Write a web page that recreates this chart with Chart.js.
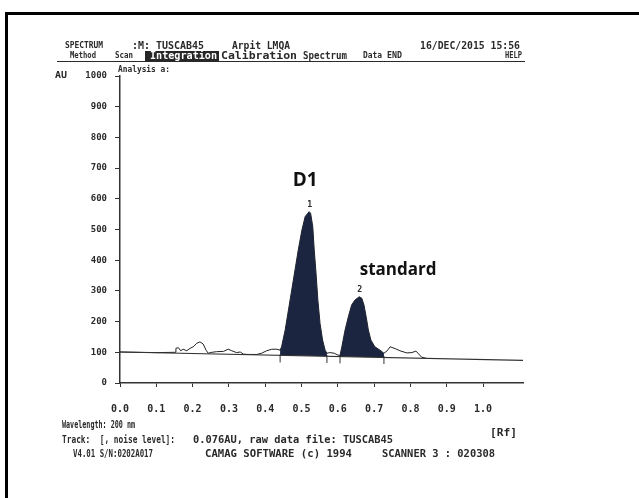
<!DOCTYPE html>
<html>
<head>
<meta charset="utf-8">
<script src="https://cdn.jsdelivr.net/npm/chart.js@4"></script>
<style>
  html, body { margin: 0; padding: 0; background: #fff; }
  #wrap { position: relative; width: 639px; height: 498px; overflow: hidden; }
  #frame { position: absolute; left: 5px; top: 12px; width: 700px; height: 600px;
           border-left: 3px solid #000; border-top: 3px solid #000; }
  canvas { position: absolute; left: 0; top: 0; }
</style>
</head>
<body>
<div id="wrap">
  <canvas id="chart" width="639" height="498"></canvas>
  <div id="frame"></div>
</div>
<script>
// densitogram trace: Rf vs AU
const rf = [0.00, 0.10, 0.152, 0.154, 0.161, 0.167, 0.174, 0.184, 0.193, 0.202, 0.211, 0.220, 0.229, 0.237,
  0.243, 0.253, 0.266, 0.285, 0.298, 0.308, 0.321, 0.331, 0.340, 0.353, 0.377, 0.390, 0.404, 0.418, 0.432,
  0.441, 0.445, 0.455, 0.464, 0.473, 0.482, 0.491, 0.501, 0.510, 0.521, 0.525, 0.531, 0.535, 0.540, 0.545,
  0.551, 0.558, 0.565, 0.570, 0.578, 0.590, 0.600, 0.606, 0.611, 0.620, 0.629, 0.638, 0.647, 0.659, 0.666,
  0.672, 0.678, 0.684, 0.691, 0.702, 0.716, 0.727, 0.736, 0.744, 0.758, 0.771, 0.790, 0.804, 0.815, 0.831, 0.845];
const au = [101, 99, 100, 113, 115, 105, 110, 105, 113, 118, 129, 134, 127, 107,
  97, 100, 102, 103, 110, 105, 99, 101, 94, 93, 93, 97, 105, 110, 110,
  107, 118, 173, 238, 303, 368, 433, 498, 542, 558, 553, 509, 433, 357, 270,
  194, 140, 107, 97, 99, 97, 91, 90, 118, 173, 216, 254, 270, 281, 276,
  254, 216, 173, 140, 118, 107, 97, 105, 118, 112, 105, 98, 99, 104, 84, 80];

// integration baseline
const baseRf = [0.0, 1.11];
const baseAu = [101, 74];

// integrated peaks: start / end Rf
const peakStart = [0.441, 0.606];
const peakEnd = [0.570, 0.727];
const peakNames = ['1', '2'];
const peakTopRf = [0.521, 0.659];
const peakTopAu = [558, 281];

// boundary markers under the baseline
const markRf = [0.441, 0.570, 0.606, 0.727];
const markAu = [80, 78, 77, 75];

const xTicks = [0.0, 0.1, 0.2, 0.3, 0.4, 0.5, 0.6, 0.7, 0.8, 0.9, 1.0];
const yTicks = [0, 100, 200, 300, 400, 500, 600, 700, 800, 900, 1000];

const pts = (xs, ys) => xs.map((x, i) => ({ x: x, y: ys[i] }));
const curve = pts(rf, au);
const peakPts = k => curve.filter(p => p.x >= peakStart[k] - 1e-9 && p.x <= peakEnd[k] + 1e-9);

const MONO = "'DejaVu Sans Mono'";
const INK = '#2a2a2a';

const textPlugin = {
  id: 'texts',
  afterDraw(chart) {
    const ctx = chart.ctx;
    const xs = chart.scales.x, ys = chart.scales.y;
    ctx.save();
    ctx.textBaseline = 'middle';
    ctx.textAlign = 'left';
    ctx.fillStyle = INK;
    // draw text squeezed or stretched to the width seen on the scan
    const t = (s, x, y, size, w) => {
      ctx.font = 'bold ' + size + 'px ' + MONO;
      const m = ctx.measureText(s).width;
      ctx.save();
      ctx.translate(x, y);
      ctx.scale(w / m, 1);
      ctx.fillText(s, 0, 0);
      ctx.restore();
    };
    // header
    t('SPECTRUM', 65, 46, 9, 38);
    t(':M: TUSCAB45', 132, 46, 10, 72);
    t('Arpit LMQA', 232, 46, 10, 58);
    t('16/DEC/2015 15:56', 420, 46, 10, 100);
    t('Method', 70, 56, 9, 26);
    t('Scan', 115, 56, 9, 18);
    ctx.fillStyle = '#262626';
    ctx.fillRect(145, 51, 74, 10);
    ctx.fillStyle = '#fff';
    t('Integration', 150, 56, 10, 67);
    ctx.fillStyle = INK;
    t('Calibration', 221, 56, 10, 76);
    t('Spectrum', 303, 56, 10, 44);
    t('Data', 363, 56, 9, 19);
    t('END', 387, 56, 9, 15);
    t('HELP', 505, 56, 9, 17);
    ctx.strokeStyle = INK;
    ctx.lineWidth = 1;
    ctx.beginPath();
    ctx.moveTo(57, 61.5);
    ctx.lineTo(525, 61.5);
    ctx.stroke();
    t('Analysis a:', 118, 70, 9, 52);
    t('AU', 55, 76, 9, 12);
    // footer
    t('Wavelength: 200 nm', 62, 425, 10, 73);
    t('[Rf]', 490, 433, 10, 27);
    t('Track:  [, noise level]:', 62, 440, 10, 113);
    t('0.076AU, raw data file: TUSCAB45', 193, 440, 10, 200);
    t('V4.01 S/N:0202A017', 73, 454, 10, 80);
    t('CAMAG SOFTWARE (c) 1994', 205, 454, 10, 147);
    t('SCANNER 3 : 020308', 382, 454, 10, 113);
    // peak numbers
    peakNames.forEach((n, i) => {
      t(n, xs.getPixelForValue(peakTopRf[i]) - 2, ys.getPixelForValue(peakTopAu[i]) - 7, 9, 5);
    });
    // annotations
    ctx.textAlign = 'center';
    ctx.fillStyle = '#111';
    ctx.font = "bold 19px 'Open Sans'";
    ctx.fillText('D1', xs.getPixelForValue(0.51), ys.getPixelForValue(660));
    ctx.font = "bold 17px 'Open Sans'";
    ctx.fillText('standard', xs.getPixelForValue(0.766), ys.getPixelForValue(368));
    ctx.restore();
  }
};

new Chart(document.getElementById('chart'), {
  type: 'line',
  data: {
    datasets: [
      { data: pts(baseRf, baseAu), borderColor: '#333', borderWidth: 1.2, pointRadius: 0, fill: false },
      { data: peakPts(0), borderWidth: 0, borderColor: 'rgba(0,0,0,0)', pointRadius: 0,
        backgroundColor: '#1c2540', fill: { target: 0 } },
      { data: peakPts(1), borderWidth: 0, borderColor: 'rgba(0,0,0,0)', pointRadius: 0,
        backgroundColor: '#1c2540', fill: { target: 0 } },
      { data: curve, borderColor: '#222', borderWidth: 1, pointRadius: 0, fill: false },
      { data: pts(markRf, markAu), showLine: false, pointStyle: 'line', rotation: 90,
        pointRadius: 4, borderColor: '#333', borderWidth: 1 }
    ]
  },
  options: {
    responsive: false,
    animation: false,
    layout: { padding: { left: 60, top: 76, right: 116, bottom: 85 } },
    plugins: { legend: { display: false }, tooltip: { enabled: false } },
    scales: {
      x: {
        type: 'linear', min: 0, max: 1.11,
        afterBuildTicks: s => { s.ticks = xTicks.map(v => ({ value: v })); },
        afterFit: s => { s.height = 30; },
        ticks: { callback: v => v.toFixed(1), color: INK, padding: 16,
                 font: { family: 'DejaVu Sans Mono', size: 10, weight: 'bold' } },
        grid: { drawOnChartArea: false, tickLength: 4, color: '#333' },
        border: { color: '#333', width: 1.5 }
      },
      y: {
        min: 0, max: 1000,
        afterBuildTicks: s => { s.ticks = yTicks.map(v => ({ value: v })); },
        afterFit: s => { s.width = 60; },
        ticks: { callback: v => String(v), color: INK, padding: 8,
                 font: { family: 'DejaVu Sans Mono', size: 9, weight: 'bold' } },
        grid: { drawOnChartArea: false, tickLength: 5, color: '#333' },
        border: { color: '#333', width: 1.5 }
      }
    }
  },
  plugins: [textPlugin]
});
</script>
</body>
</html>
